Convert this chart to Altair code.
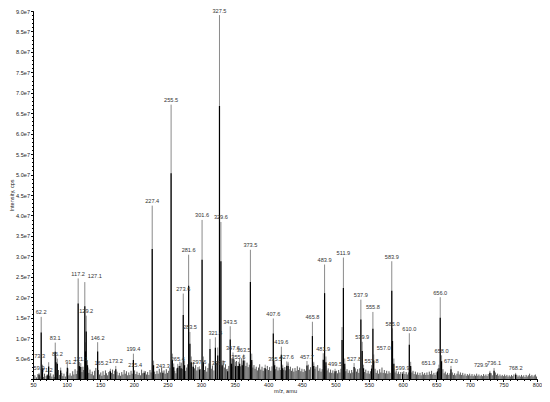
import altair as alt
import pandas as pd

# ---- labelled peaks (m/z label, intensity in cps) ----
PEAK_LABEL = ["59.0", "62.2", "71.2", "73.3", "83.1", "86.2", "91.2", "117.2", "121.1", "127.1",
              "129.2", "146.2", "165.2", "173.2", "199.4", "215.4", "227.4", "243.3", "255.5", "265.4",
              "273.6", "281.6", "283.5", "297.6", "301.6", "321.4", "327.5", "329.6", "339.7", "343.5",
              "347.6", "355.6", "363.5", "373.5", "395.5", "407.6", "419.6", "427.6", "457.7", "465.8",
              "481.9", "483.9", "499.5", "511.9", "527.8", "537.9", "539.9", "553.8", "555.8", "557.0",
              "583.9", "585.0", "599.9", "610.0", "651.9", "656.0", "658.0", "672.0", "729.9", "736.1",
              "768.2"]
PEAK_INT = [0.15e7, 1.52e7, 0.12e7, 0.41e7, 0.89e7, 0.50e7, 0.28e7, 2.46e7, 0.39e7, 2.37e7,
            1.55e7, 0.90e7, 0.25e7, 0.32e7, 0.62e7, 0.20e7, 4.24e7, 0.20e7, 6.71e7, 0.37e7,
            2.09e7, 3.04e7, 1.15e7, 0.31e7, 3.89e7, 1.02e7, 8.90e7, 3.84e7, 0.25e7, 1.29e7,
            0.65e7, 0.42e7, 0.60e7, 3.16e7, 0.35e7, 1.48e7, 0.79e7, 0.43e7, 0.44e7, 1.40e7,
            0.63e7, 2.80e7, 0.25e7, 2.97e7, 0.39e7, 1.94e7, 0.91e7, 0.34e7, 1.64e7, 0.60e7,
            2.88e7, 1.24e7, 0.17e7, 1.12e7, 0.25e7, 2.00e7, 0.58e7, 0.32e7, 0.20e7, 0.27e7,
            0.15e7]

# ---- unlabelled medium peaks ----
MINOR_MZ = [64.2, 84.3, 101.1, 119.2, 128.2, 131.1, 229.4, 257.4, 259.4, 268.5, 270.4, 275.5,
            285.5, 288.6, 303.5, 313.4, 324.9, 331.5, 345.4, 351.4, 357.5, 361.4, 375.5, 409.6,
            421.6, 429.6, 467.8, 485.9, 509.9, 513.9, 541.9, 587.0, 612.0, 654.1]
MINOR_INT = [0.35e7, 0.55e7, 0.37e7, 0.42e7, 0.90e7, 0.45e7, 0.45e7, 0.62e7, 0.38e7, 0.42e7, 0.35e7, 0.45e7,
             0.55e7, 0.40e7, 0.55e7, 0.98e7, 0.77e7, 0.45e7, 0.50e7, 0.42e7, 0.50e7, 0.45e7, 0.62e7, 0.45e7,
             0.35e7, 0.42e7, 0.42e7, 0.55e7, 1.27e7, 0.50e7, 0.35e7, 0.50e7, 0.42e7, 0.35e7]

# ---- baseline noise (m/z, intensity in 1e6 cps) ----
NOISE_MZ = [50.5, 52.8, 55.1, 57.3, 60.4, 63.9, 65.8, 67.2, 69.5, 74.6, 76.3, 78.1, 80.2, 81.7, 84.5,
            87.9, 89.3, 92.8, 94.4, 96.1, 98.2, 100.3, 101.9, 103.5, 105.2, 107.0, 109.1, 110.8, 112.6,
            114.4, 115.9, 118.3, 119.6, 122.8, 124.3, 125.5, 130.4, 131.6, 133.1, 134.8, 136.5, 138.2,
            140.0, 141.7, 143.5, 147.4, 149.0, 150.9, 152.5, 154.2, 156.0, 157.8, 159.3, 161.0, 162.8,
            164.4, 166.9, 168.4, 170.2, 171.6, 175.0, 176.8, 178.5, 180.3, 182.1, 183.8, 185.6, 187.3,
            189.0, 190.8, 192.5, 194.1, 195.9, 197.6, 201.2, 203.0, 204.7, 206.4, 208.1, 209.9, 211.6,
            213.3, 217.2, 218.9, 220.6, 222.4, 224.1, 225.8, 229.3, 231.0, 232.7, 234.5, 236.2, 237.9,
            239.7, 241.4, 245.0, 246.7, 248.4, 250.2, 251.9, 253.6, 257.4, 259.3, 261.0, 262.7, 264.0,
            267.1, 268.9, 270.5, 272.2, 275.4, 277.1, 278.8, 280.2, 285.2, 286.9, 288.6, 290.3, 292.0,
            293.8, 295.5, 299.4, 303.4, 305.2, 306.9, 308.6, 310.3, 311.9, 315.3, 317.0, 319.2, 323.2,
            331.4, 333.1, 334.8, 336.5, 338.2, 341.4, 345.2, 346.3, 349.4, 351.1, 352.8, 354.3, 357.2,
            358.9, 360.6, 362.2, 365.1, 366.8, 368.5, 370.2, 371.9, 375.4, 377.1, 378.8, 380.5, 382.2,
            383.9, 385.6, 387.3, 389.0, 390.8, 392.5, 394.1, 397.0, 398.7, 400.4, 402.1, 403.9, 405.6,
            409.4, 411.1, 412.9, 414.6, 416.3, 418.0, 421.4, 423.1, 424.8, 426.0, 429.5, 431.2, 433.0,
            434.7, 436.4, 438.1, 439.9, 441.6, 443.3, 445.0, 446.8, 448.5, 450.2, 451.9, 453.6, 455.4,
            459.6, 461.3, 463.1, 467.6, 469.4, 471.1, 473.6, 475.2, 476.9, 478.6, 480.3, 485.8, 487.6,
            489.3, 491.0, 492.8, 494.5, 496.2, 497.9, 501.4, 503.1, 504.8, 506.6, 508.3, 513.8, 515.5,
            517.3, 519.0, 520.7, 522.5, 524.2, 525.9, 529.6, 531.4, 533.1, 534.8, 536.2, 541.8, 543.5,
            545.2, 547.0, 548.7, 550.4, 552.1, 559.0, 560.7, 562.4, 564.2, 565.9, 567.6, 569.3, 571.1,
            572.8, 574.5, 576.3, 578.0, 579.7, 581.4, 586.9, 588.7, 590.4, 592.1, 593.8, 595.6, 597.3,
            601.8, 603.5, 605.3, 607.0, 608.7, 612.0, 613.8, 615.5, 617.2, 619.0, 620.7, 622.4, 624.1,
            625.9, 627.6, 629.3, 631.0, 632.8, 634.5, 636.2, 637.9, 639.7, 641.4, 643.1, 644.8, 646.6,
            648.3, 650.0, 653.9, 660.0, 661.8, 663.5, 665.2, 666.9, 668.7, 670.4, 674.0, 675.7, 677.4,
            679.1, 680.9, 682.6, 684.3, 686.0, 687.8, 689.5, 691.2, 692.9, 694.7, 696.4, 698.1, 699.8,
            701.6, 703.3, 705.0, 706.7, 708.5, 710.2, 711.9, 713.6, 715.4, 717.1, 718.8, 720.5, 722.3,
            724.0, 725.7, 727.4, 731.8, 733.5, 738.0, 739.7, 741.4, 743.1, 744.9, 746.6, 748.3, 750.0,
            751.8, 753.5, 755.2, 756.9, 758.7, 760.4, 762.1, 763.8, 765.6, 770.0, 771.7, 773.4, 775.2,
            776.9, 778.6, 780.3, 782.1, 783.8, 785.5, 787.2, 789.0, 790.7, 792.4, 794.1, 795.9, 797.6,
            799.3]
NOISE_INT = [0.3, 0.9, 0.4, 1.2, 0.6, 1.0, 0.5, 1.3, 0.7, 0.8, 1.4, 0.6, 1.1, 0.5, 1.6,
             2.2, 1.0, 1.5, 0.7, 1.3, 0.6, 1.8, 2.6, 0.9, 1.4, 0.8, 1.9, 1.1, 2.4,
             1.2, 2.0, 3.1, 2.5, 1.7, 3.0, 2.2, 3.5, 2.8, 1.5, 2.3, 1.2, 1.8,
             0.9, 2.0, 2.7, 2.2, 1.1, 1.6, 0.8, 1.9, 1.0, 2.1, 1.4, 0.9, 1.7,
             2.0, 1.5, 2.3, 1.2, 2.0, 1.8, 0.9, 1.5, 0.8, 1.7, 1.1, 2.2, 1.3,
             1.9, 0.9, 1.6, 1.0, 2.0, 1.3, 2.1, 1.2, 1.8, 1.0, 1.5, 0.9, 2.3,
             1.4, 1.9, 1.1, 1.7, 1.0, 2.2, 1.6, 3.0, 1.8, 1.2, 2.0, 1.3, 2.5,
             1.6, 2.8, 2.1, 1.3, 2.4, 1.5, 2.0, 2.7, 4.5, 3.0, 2.0, 1.4, 2.6,
             3.2, 2.3, 4.0, 2.5, 3.3, 2.0, 2.8, 3.6, 3.9, 3.0, 4.2, 2.6, 3.4,
             2.1, 2.9, 2.4, 3.5, 2.2, 3.1, 1.8, 2.7, 3.8, 2.5, 3.3, 2.1, 4.0,
             3.0, 4.5, 2.8, 3.6, 2.4, 3.2, 4.2, 3.0, 4.8, 3.5, 4.4, 3.2, 4.0,
             3.1, 5.0, 3.8, 4.5, 3.2, 4.0, 2.9, 3.5, 4.2, 2.8, 3.4, 2.5, 3.0,
             2.1, 2.8, 3.6, 2.3, 3.0, 2.0, 2.7, 2.4, 3.2, 2.2, 2.9, 2.0, 3.1,
             3.8, 2.4, 3.0, 2.1, 2.8, 2.2, 3.1, 2.2, 2.9, 2.1, 3.8, 2.4, 3.0,
             2.0, 2.6, 1.8, 2.7, 2.0, 3.1, 2.2, 2.8, 1.9, 2.5, 1.7, 2.4, 2.0,
             3.5, 2.3, 2.9, 3.8, 2.5, 3.0, 3.4, 2.0, 2.6, 1.8, 2.4, 3.2, 2.1,
             2.6, 1.6, 2.3, 1.5, 2.1, 1.4, 2.0, 1.4, 2.2, 1.6, 2.5, 3.0, 1.9,
             2.4, 1.5, 2.1, 1.4, 2.2, 1.6, 2.6, 1.8, 2.4, 1.5, 2.6, 2.8, 1.7,
             2.3, 1.4, 2.0, 1.3, 1.9, 2.5, 1.5, 2.1, 1.3, 2.4, 1.6, 2.8, 1.5,
             2.2, 1.4, 2.0, 1.3, 1.9, 1.5, 2.6, 1.6, 2.1, 1.3, 1.8, 1.2, 1.7,
             1.9, 1.2, 1.7, 1.1, 1.6, 2.8, 1.6, 2.0, 1.2, 1.8, 1.1, 1.6, 1.0,
             1.5, 0.9, 1.7, 1.1, 1.5, 1.0, 1.6, 1.0, 1.8, 1.2, 2.0, 1.1, 1.5,
             1.0, 1.6, 2.2, 2.4, 1.4, 1.8, 1.1, 1.5, 1.0, 1.4, 1.6, 1.0, 1.4,
             0.9, 1.3, 1.9, 1.1, 1.6, 1.0, 1.5, 0.9, 1.3, 0.8, 1.2, 0.9, 1.3,
             0.8, 1.2, 0.7, 1.1, 0.8, 1.3, 0.8, 1.1, 0.7, 1.0, 0.7, 1.2, 0.8,
             1.1, 0.7, 1.2, 1.4, 0.9, 1.6, 1.0, 1.3, 0.8, 1.1, 0.7, 1.0, 0.7,
             1.1, 0.7, 1.0, 0.6, 0.9, 0.6, 1.0, 0.7, 1.1, 1.0, 0.6, 0.9, 0.6,
             1.0, 0.6, 0.9, 0.5, 1.0, 0.6, 0.9, 1.3, 0.7, 1.0, 0.6, 0.9, 1.1,
             0.6]

X_TICKS = [50, 100, 150, 200, 250, 300, 350, 400, 450, 500, 550, 600, 650, 700, 750, 800]
Y_TICKS = [0, 5e6, 1e7, 1.5e7, 2e7, 2.5e7, 3e7, 3.5e7, 4e7, 4.5e7, 5e7, 5.5e7, 6e7, 6.5e7,
           7e7, 7.5e7, 8e7, 8.5e7, 9e7]

SHIFT_RIGHT = {"127.1", "91.2", "557.0", "395.5"}
SHIFT_LEFT = {"73.3", "165.2", "215.4", "339.7", "651.9", "729.9"}

rows = []
for lab, inten in zip(PEAK_LABEL, PEAK_INT):
    side = "r" if lab in SHIFT_RIGHT else ("l" if lab in SHIFT_LEFT else "c")
    rows.append({"mz": float(lab), "intensity": inten, "label": lab, "kind": "peak", "side": side})
for mz, inten in zip(MINOR_MZ, MINOR_INT):
    rows.append({"mz": mz, "intensity": inten, "label": "", "kind": "minor", "side": ""})
for mz, inten in zip(NOISE_MZ, NOISE_INT):
    rows.append({"mz": mz, "intensity": inten * 1e6, "label": "", "kind": "noise", "side": ""})
df = pd.DataFrame(rows)

FONT = "Liberation Sans"
xscale = alt.Scale(domain=[50, 800], nice=False, zero=False)
yscale = alt.Scale(domain=[0, 9e7], nice=False)

xaxis = alt.Axis(values=X_TICKS, grid=False, tickSize=2.5, tickColor="#000", domainColor="#000",
                 labelFontSize=5.6, labelColor="#222", labelFont=FONT, labelPadding=0.5,
                 title="m/z, amu", titleFontSize=5.6, titleFontWeight="normal", titleColor="#222",
                 titleFont=FONT, titlePadding=0.5, labelFlush=False)
yaxis = alt.Axis(values=Y_TICKS, grid=False, tickSize=2.5, tickColor="#000", domainColor="#000",
                 labelFontSize=5.6, labelColor="#222", labelFont=FONT, labelPadding=1,
                 labelExpr="datum.value == 0 ? '' : replace(format(datum.value, '.1e'), '+', '')",
                 title="Intensity, cps", titleFontSize=5.6, titleFontWeight="normal", titleColor="#222",
                 titleFont=FONT, titlePadding=1)

X = alt.X("mz:Q", scale=xscale, axis=xaxis)
def Y(field):
    return alt.Y(field, type="quantitative", scale=yscale, axis=yaxis)

base = alt.Chart(df)

noise = base.transform_filter("datum.kind == 'noise'").mark_rule(
    color="#111", strokeWidth=0.7).encode(x=X, y=Y("intensity"), y2=alt.datum(0))

sticks_grey = base.transform_filter("datum.kind != 'noise'").mark_rule(
    color="#8a8a8a", strokeWidth=1).encode(x=X, y=Y("intensity"), y2=alt.datum(0))

sticks_black = base.transform_filter("datum.kind != 'noise'").transform_calculate(
    core="datum.intensity * 0.75").mark_rule(color="#000", strokeWidth=1.2).encode(
    x=X, y=Y("core"), y2=alt.datum(0))

def labels(side, dx, dy):
    return base.transform_filter(
        f"datum.kind == 'peak' && datum.side == '{side}'").mark_text(
        baseline="bottom", dx=dx, dy=dy, fontSize=5.6, font=FONT, color="#333").encode(
        x=X, y=Y("intensity"), text="label:N")

inner = alt.layer(noise, sticks_grey, sticks_black,
                  labels("c", 0, -1.5), labels("l", -9, -3), labels("r", 10, -3))

minor_ticks = base.transform_filter("datum.kind == 'noise'").mark_point(opacity=0).encode(
    x=alt.X("mz:Q", scale=xscale,
            axis=alt.Axis(tickCount=75, labels=False, domain=False, grid=False, title=None,
                          tickSize=1.5, tickColor="#000", orient="bottom")),
    y=alt.Y("intensity:Q", scale=yscale,
            axis=alt.Axis(tickCount=90, labels=False, domain=False, grid=False, title=None,
                          tickSize=1.5, tickColor="#000", orient="left")))

chart = alt.layer(inner, minor_ticks).resolve_axis(x="independent", y="independent").properties(
    width=504, height=368,
    autosize=alt.AutoSizeParams(type="none"),
    padding={"left": 25, "right": 5, "top": 3, "bottom": 15},
).configure_view(stroke=None)

chart.save("out.html", embed_options={"renderer": "svg", "actions": False})
